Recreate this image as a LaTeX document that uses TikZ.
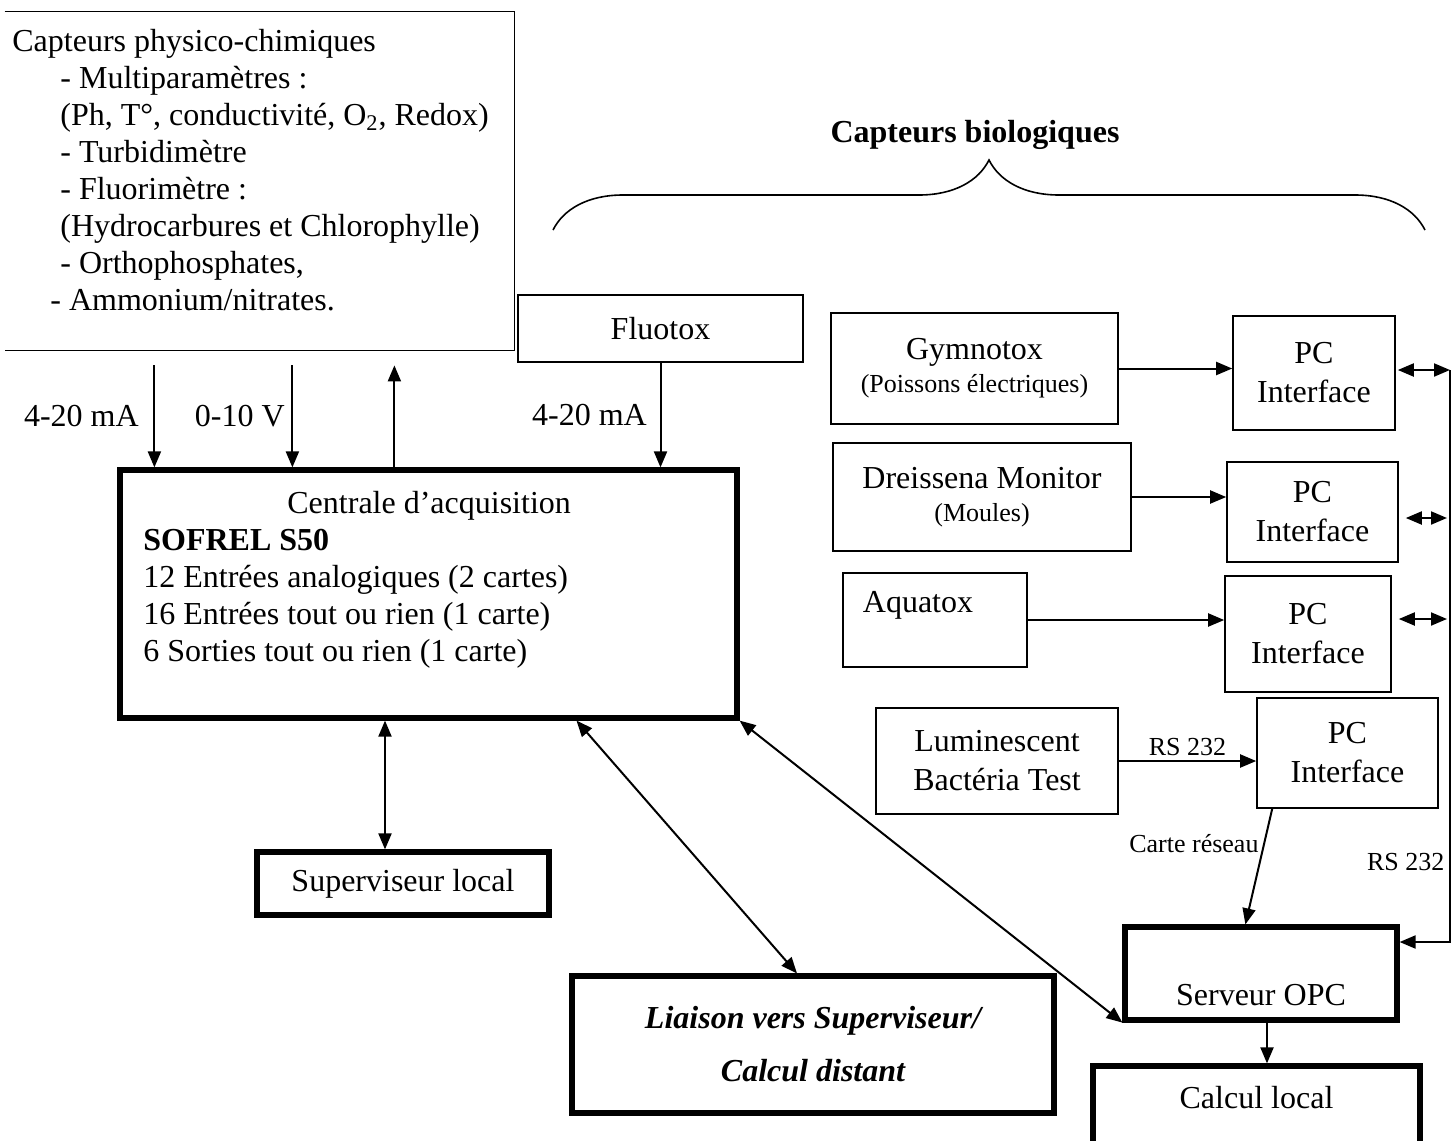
\documentclass[tikz,border=0pt]{standalone}
\usepackage{fontspec}
\setmainfont{Liberation Serif}
\usetikzlibrary{arrows.meta, positioning, decorations.pathreplacing}

\begin{document}
\begin{tikzpicture}[
    x=0.5pt, y=-0.5pt,
    font=\fontsize{16}{18.5}\selectfont,
    box/.style={draw, line width=0.8pt, inner sep=0pt, align=center},
    thickbox/.style={box, line width=2.6pt},
    small/.style={font=\fontsize{13}{15}\selectfont},
    arr/.style={-{Triangle[length=8pt, width=6.5pt]}, line width=1pt},
    dbl/.style={{Triangle[length=8pt, width=6.5pt]}-{Triangle[length=8pt, width=6.5pt]}, line width=1pt}
  ]
  \useasboundingbox (0,0) rectangle (1452,1141);

  % capteurs physico-chimiques
  \node[inner sep=0pt, minimum width=254.5pt, minimum height=169pt] (phys) at (259.5,181) {};
  \draw[line width=0.8pt] (phys.north west) -- (phys.north east) -- (phys.south east) -- (phys.south west);
  \node[anchor=north west, inner sep=0pt, align=left] (physlist) at (12,29) {Capteurs physico-chimiques\\
    \hspace*{24pt}- Multiparamètres :\\
    \hspace*{24pt}(Ph, T°, conductivité, O\textsubscript{2}, Redox)\\
    \hspace*{24pt}- Turbidimètre\\
    \hspace*{24pt}- Fluorimètre :\\
    \hspace*{24pt}(Hydrocarbures et Chlorophylle)\\
    \hspace*{24pt}- Orthophosphates,\\
    \hspace*{19pt}- Ammonium/nitrates.};

  % centrale
  \node[thickbox, minimum width=308.5pt, minimum height=124pt] (cent) at (428.5,594) {};
  \node[anchor=north west, inner sep=0pt, align=left] (centtxt) at (143,491) {\hspace*{72pt}Centrale d’acquisition\\
    \textbf{SOFREL S50}\\
    12 Entrées analogiques (2 cartes)\\
    16 Entrées tout ou rien (1 carte)\\
    6 Sorties tout ou rien (1 carte)};

  \node[box, minimum width=142.5pt, minimum height=33.5pt] (fluo) at (660.5,328.5) {Fluotox};

  % capteurs biologiques
  \draw[line width=0.8pt, decorate, decoration={brace, amplitude=35pt}] (553,230) -- (1425,230);
  \node (biolabel) at (975,135) {\textbf{Capteurs biologiques}};

  \node[box, minimum width=143.5pt, minimum height=55.5pt] (gym) at (974.5,368.5) {Gymnotox\\[-2pt]{\fontsize{13}{15}\selectfont (Poissons électriques)}};
  \node[box, minimum width=149pt, minimum height=54pt] (dre) at (982,497) {Dreissena Monitor\\[-2pt]{\fontsize{13}{15}\selectfont (Moules)}};
  \node[box, minimum width=92pt, minimum height=47pt] (aqu) at (935,620) {};
  \node (aqutxt) at ([xshift=-8.5pt, yshift=7.5pt]aqu.center) {Aquatox};
  \node[box, minimum width=121pt, minimum height=53pt] (lum) at (997,761) {Luminescent\\[1pt]Bactéria Test};

  \node[box, minimum width=81pt, minimum height=57pt] (pc1) at (1314,373) {PC\\[1pt]Interface};
  \node[box, minimum width=85.5pt, minimum height=50pt] (pc2) at (1312.5,512) {PC\\[1pt]Interface};
  \node[box, minimum width=83pt, minimum height=58pt] (pc3) at (1308,634) {PC\\[1pt]Interface};
  \node[box, minimum width=90.5pt, minimum height=55pt] (pc4) at (1347.5,753) {PC\\[1pt]Interface};

  \node[thickbox, minimum width=136pt, minimum height=46.5pt] (serv) at (1261,973.5) {};
  \node (servtxt) at ([yshift=-11pt]serv.center) {Serveur OPC};
  \node[thickbox, minimum width=163.5pt, minimum height=40pt] (calc) at (1256.5,1106) {};
  \node (calctxt) at ([yshift=4pt]calc.center) {Calcul local};
  \node[thickbox, minimum width=146pt, minimum height=31.5pt] (sup) at (403,883.5) {Superviseur local};
  \node[thickbox, minimum width=241pt, minimum height=68.5pt, font=\fontsize{16}{26.5}\selectfont\bfseries\itshape] (liai) at (813,1044.5) {Liaison vers Superviseur/\\Calcul distant};

  \coordinate (bustop) at (1450,370);
  \coordinate (busbot) at (1450,942);

  % liaisons
  \draw[arr] ([xshift=18.5pt, yshift=-7.5pt]phys.south west -| cent.north west) -- node[midway, left=4pt] {4-20 mA} ([xshift=18.5pt]cent.north west);
  \draw[arr] ([xshift=87.5pt, yshift=-7.5pt]phys.south west -| cent.north west) -- node[midway, left=0pt] {0-10 V} ([xshift=87.5pt]cent.north west);
  \draw[arr] ([xshift=138.5pt]cent.north west) -- ([xshift=138.5pt, yshift=-7.5pt]phys.south west -| cent.north west);
  \draw[arr] (fluo.south) -- node[midway, left=3pt] {4-20 mA} (fluo.south |- cent.north);

  \draw[arr] (gym.east) -- (gym.east -| pc1.west);
  \draw[arr] (dre.east) -- (dre.east -| pc2.west);
  \draw[arr] (aqu.east) -- (aqu.east -| pc3.west);
  \draw[arr] (lum.east) -- node[midway, above=-1pt, small] {RS 232} (lum.east -| pc4.west);

  \draw[dbl] ([xshift=1pt, yshift=1.5pt]pc1.east) -- ([yshift=1.5pt]pc1.east -| bustop);
  \draw[dbl] ([xshift=3.5pt, yshift=-3pt]pc2.east) -- ([xshift=-1.5pt, yshift=-3pt]pc2.east -| bustop);
  \draw[dbl] ([xshift=3.5pt, yshift=7.5pt]pc3.east) -- ([xshift=-1.5pt, yshift=7.5pt]pc3.east -| bustop);
  \draw[arr] (bustop) -- node[pos=0.86, left=-1pt, small] {RS 232} (busbot) -- (busbot -| serv.east);

  \draw[arr] ([xshift=8pt]pc4.south west) -- node[pos=0.3, left=-1pt, small] {Carte réseau} ([xshift=61.5pt]serv.north west);
  \draw[arr] ([xshift=3pt]serv.south) -- ([xshift=3pt]serv.south |- calc.north);

  \draw[dbl] ([xshift=-9pt]sup.north |- cent.south) -- ([xshift=-9pt]sup.north);
  \draw[dbl] ([xshift=74pt]cent.south) -- ([xshift=-8pt]liai.north);
  \draw[dbl] (cent.south east) -- (serv.south west);
\end{tikzpicture}
\end{document}
